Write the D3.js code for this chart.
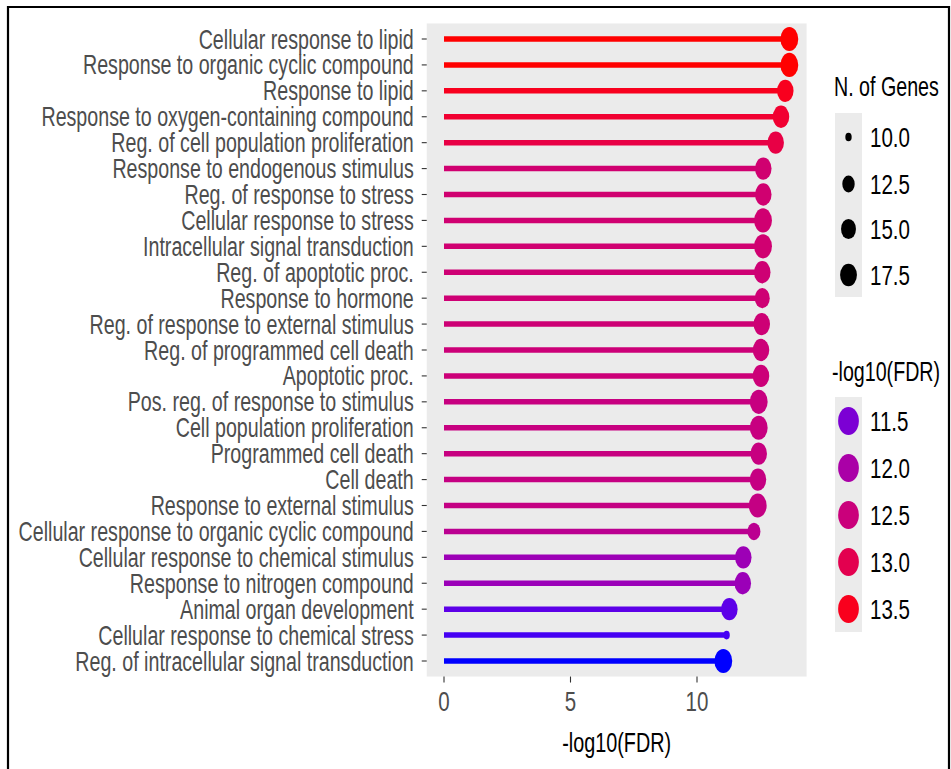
<!DOCTYPE html>
<html>
<head>
<meta charset="utf-8">
<script src="https://cdn.jsdelivr.net/npm/d3@7"></script>
<style>
  html, body { margin: 0; padding: 0; background: #fff; }
  svg text { font-family: "Liberation Sans", Arial, Helvetica, sans-serif; }
</style>
</head>
<body>
<svg id="chart" width="951" height="769"></svg>
<script>
// GO terms, ordered top to bottom
const categories = [
  "Cellular response to lipid",
  "Response to organic cyclic compound",
  "Response to lipid",
  "Response to oxygen-containing compound",
  "Reg. of cell population proliferation",
  "Response to endogenous stimulus",
  "Reg. of response to stress",
  "Cellular response to stress",
  "Intracellular signal transduction",
  "Reg. of apoptotic proc.",
  "Response to hormone",
  "Reg. of response to external stimulus",
  "Reg. of programmed cell death",
  "Apoptotic proc.",
  "Pos. reg. of response to stimulus",
  "Cell population proliferation",
  "Programmed cell death",
  "Cell death",
  "Response to external stimulus",
  "Cellular response to organic cyclic compound",
  "Cellular response to chemical stimulus",
  "Response to nitrogen compound",
  "Animal organ development",
  "Cellular response to chemical stress",
  "Reg. of intracellular signal transduction"
];
// -log10(FDR) per term
const logFDR = [13.65, 13.65, 13.49, 13.32, 13.11, 12.62, 12.62, 12.61, 12.61, 12.58,
                12.58, 12.56, 12.53, 12.53, 12.44, 12.44, 12.44, 12.41, 12.40, 12.25,
                11.83, 11.81, 11.28, 11.17, 11.04];
// number of genes per term
const nGenes = [19, 19, 17, 17, 17, 17, 17, 19, 19, 17,
                15, 17, 17, 17, 19, 19, 17, 17, 19, 13,
                17, 17, 17, 10, 19];
// legend breaks
const sizeBreaks = [10.0, 12.5, 15.0, 17.5];
const colorBreaks = [11.5, 12.0, 12.5, 13.0, 13.5];
const xTicks = [0, 5, 10];

const data = categories.map((c, i) => ({ term: c, fdr: logFDR[i], genes: nGenes[i] }));

const SX = 0.72;          // horizontal squeeze of glyphs
const DX = 0.74;          // horizontal squeeze of dots
const svg = d3.select("#chart");

// outer frame
svg.append("path")
  .attr("d", "M8,769 L8,7 L949,7 L949,769")
  .attr("fill", "none").attr("stroke", "#000").attr("stroke-width", 2.2);

const fdrMax = d3.max(logFDR);
const expand = 0.05 * fdrMax;
const x = d3.scaleLinear().domain([0, 10]).range([444, 697]);
const y = d3.scalePoint().domain(categories).range([39, 661]);
const step = y.step();

const panel = { left: x(-expand), right: x(fdrMax + expand), top: y(categories[0]) - 0.6 * step, bottom: y(categories[categories.length - 1]) + 0.6 * step };

const color = d3.scaleLinear()
  .domain(d3.extent(logFDR))
  .range(["blue", "red"])
  .interpolate(d3.interpolateLab);

const gMin = d3.min(nGenes), gMax = d3.max(nGenes);
// area scale: size 1..6 from sqrt of rescaled count
const sizeMM = g => 1 + 5 * Math.sqrt((g - gMin) / (gMax - gMin));
const diam = g => 5.5 + 3.1 * sizeMM(g);

function label(sel, txt, px, py, opts) {
  const t = sel.append("text")
    .attr("transform", `translate(${px},${py}) scale(${SX},1)`)
    .text(txt);
  Object.entries(opts || {}).forEach(([k, v]) => t.attr(k, v));
  return t;
}

// panel background
svg.append("rect")
  .attr("x", panel.left).attr("y", panel.top)
  .attr("width", panel.right - panel.left).attr("height", panel.bottom - panel.top)
  .attr("fill", "#EBEBEB");

// lollipop stems
svg.append("g").selectAll("line").data(data).join("line")
  .attr("x1", x(0)).attr("x2", d => x(d.fdr))
  .attr("y1", d => y(d.term)).attr("y2", d => y(d.term))
  .attr("stroke", d => color(d.fdr)).attr("stroke-width", 5.5);

// lollipop heads
svg.append("g").selectAll("ellipse").data(data).join("ellipse")
  .attr("cx", d => x(d.fdr)).attr("cy", d => y(d.term))
  .attr("rx", d => diam(d.genes) / 2 * DX).attr("ry", d => diam(d.genes) / 2)
  .attr("fill", d => color(d.fdr));

// y axis
const yAx = svg.append("g");
categories.forEach(c => {
  yAx.append("line").attr("x1", panel.left - 5).attr("x2", panel.left)
    .attr("y1", y(c)).attr("y2", y(c)).attr("stroke", "#333").attr("stroke-width", 1.1);
  label(yAx, c, panel.left - 13, y(c) + 9.5, { "text-anchor": "end", "font-size": 27.3, fill: "#4D4D4D" });
});

// x axis
const xAx = svg.append("g");
xTicks.forEach(v => {
  xAx.append("line").attr("x1", x(v)).attr("x2", x(v))
    .attr("y1", panel.bottom).attr("y2", panel.bottom + 6).attr("stroke", "#333").attr("stroke-width", 1.1);
  label(xAx, String(v), x(v), panel.bottom + 34, { "text-anchor": "middle", "font-size": 28.5, fill: "#4D4D4D" });
});
label(svg, "-log10(FDR)", (panel.left + panel.right) / 2, 752, { "text-anchor": "middle", "font-size": 27.5, fill: "#000" });

// size legend
const lx = 835;
label(svg, "N. of Genes", 834, 96, { "font-size": 27.3, fill: "#000" });
const sizeKeyY = [137, 184, 229, 275];
svg.append("rect").attr("x", lx).attr("y", 113).attr("width", 27).attr("height", 184).attr("fill", "#EBEBEB");
sizeBreaks.forEach((b, i) => {
  const d = diam(b);
  svg.append("ellipse").attr("cx", lx + 13.5).attr("cy", sizeKeyY[i])
    .attr("rx", d / 2 * DX).attr("ry", d / 2).attr("fill", "#000");
  label(svg, b.toFixed(1), 870, sizeKeyY[i] + 9.5, { "font-size": 28.5, fill: "#000" });
});

// colour legend
label(svg, "-log10(FDR)", 832, 381, { "font-size": 27.3, fill: "#000" });
const colKeyY = [421, 468, 515, 562, 609];
svg.append("rect").attr("x", lx).attr("y", 397).attr("width", 27).attr("height", 235).attr("fill", "#EBEBEB");
colorBreaks.forEach((b, i) => {
  svg.append("ellipse").attr("cx", lx + 13.5).attr("cy", colKeyY[i])
    .attr("rx", 14 * DX).attr("ry", 14).attr("fill", color(b));
  label(svg, b.toFixed(1), 870, colKeyY[i] + 9.5, { "font-size": 28.5, fill: "#000" });
});
</script>
</body>
</html>
